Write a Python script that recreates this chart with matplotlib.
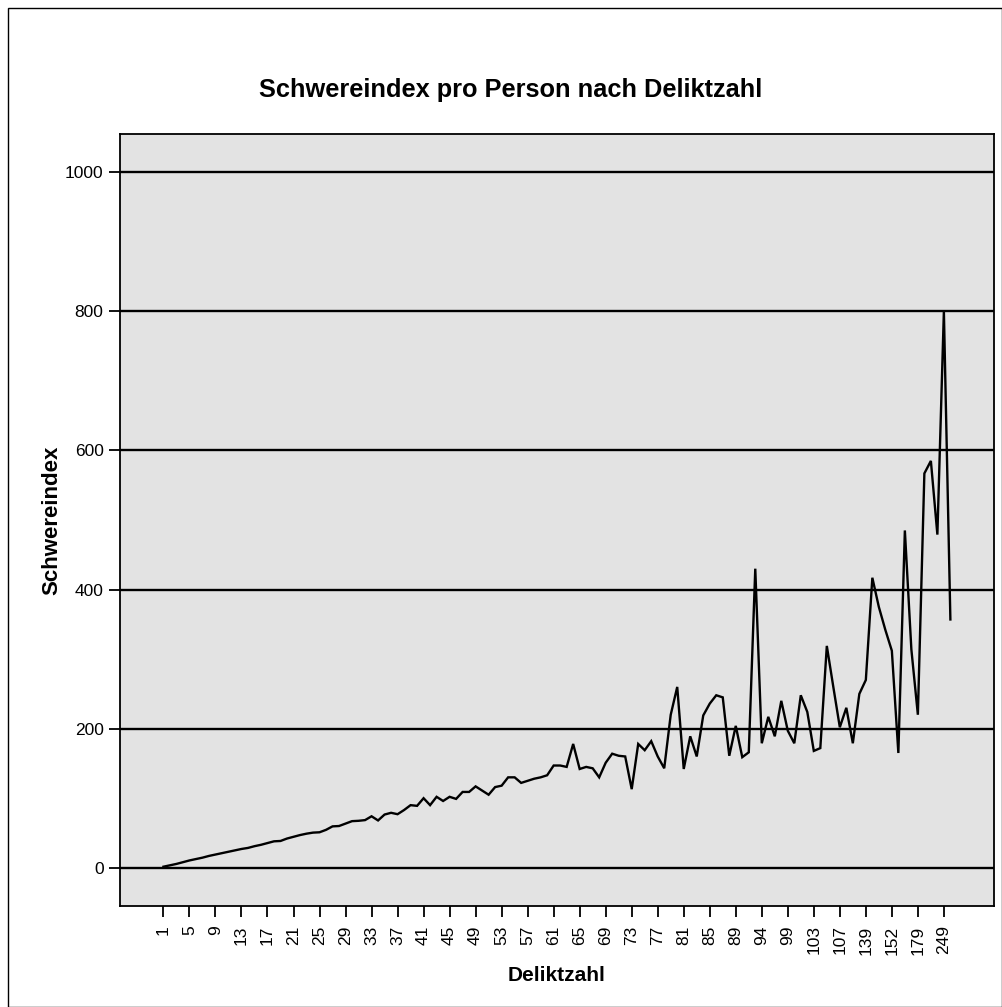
import matplotlib
matplotlib.use("Agg")
import matplotlib.pyplot as plt
from matplotlib.patches import Rectangle
import numpy as np

plt.rcParams["font.family"] = ["Liberation Sans", "DejaVu Sans"]

# Deliktzahl categories (only every 4th is labelled on the axis)
deliktzahl = list(range(1, 90)) + [
    90, 91, 93, 94, 95, 96, 98, 99, 100, 101, 102, 103,
    104, 105, 106, 107, 110, 114, 120, 139, 141, 145, 149, 152,
    160, 167, 175, 179, 190, 203, 224, 249, 289,
]

# Schwereindex pro Person
schwereindex = [
    1.5, 3.5, 5.5, 8, 10.5, 12.5, 14.5, 17, 19, 21,
    23, 25, 27, 28.5, 31, 33, 35.5, 38, 38.5, 42,
    44.5, 47, 49, 50.5, 51, 54.5, 59.5, 60, 63.5, 67,
    67.5, 68.5, 74, 68, 76.5, 79, 77, 83, 90, 89,
    100, 90, 102, 96, 102, 99, 109, 109, 117, 111,
    105, 116, 118, 130, 130, 122, 125, 128, 130, 133,
    147, 147, 145, 178, 142, 145, 143, 130, 151, 164,
    161, 160, 113, 178, 169, 182, 160, 143, 220, 260,
    142, 189, 160, 219, 236, 248, 245, 161, 204, 159,
    166, 430, 179, 217, 189, 240, 197, 179, 248, 224,
    168, 172, 319, 260, 202, 230, 179, 250, 270, 417,
    375, 342, 312, 165, 485, 314, 220, 567, 585, 479,
    800, 357,
]

pos = np.arange(len(deliktzahl))

fig = plt.figure(figsize=(10.02, 10.07), dpi=100)
ax = fig.add_axes([0.1193, 0.1003, 0.873, 0.7666])
ax.set_facecolor("#e3e3e3")

for yv in [0, 200, 400, 600, 800, 1000]:
    ax.axhline(yv, color="black", linewidth=1.7, zorder=1)

ax.plot(pos, schwereindex, color="black", linewidth=1.7, zorder=3,
        solid_joinstyle="miter")

ax.set_xlim(-6.75, len(deliktzahl) - 1 + 6.75)
ax.set_ylim(-55, 1055)
ax.set_yticks([0, 200, 400, 600, 800, 1000])
ax.set_xticks(pos[::4])
ax.set_xticklabels([str(d) for d in deliktzahl[::4]], rotation=90)
ax.tick_params(axis="both", direction="out", length=8, width=1.3,
               labelsize=12.5, color="black")
ax.tick_params(axis="x", pad=6)

for s in ax.spines.values():
    s.set_color("black")
    s.set_linewidth(1.3)

ax.set_xlabel("Deliktzahl", fontsize=15, fontweight="bold", labelpad=8)
ax.set_ylabel("Schwereindex", fontsize=16, fontweight="bold", labelpad=2)
fig.text(0.51, 0.911, "Schwereindex pro Person nach Deliktzahl",
         ha="center", va="center", fontsize=18.3, fontweight="bold")

fig.patches.append(Rectangle((0.008, 0.0), 0.992, 0.992, transform=fig.transFigure,
                             fill=False, edgecolor="black", linewidth=1.0))

fig.savefig("out.png", dpi=100)
